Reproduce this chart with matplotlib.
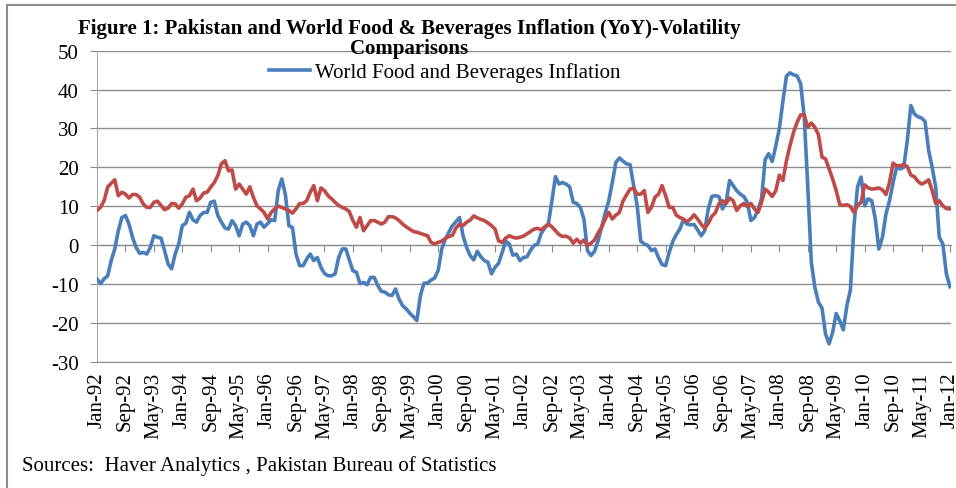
import matplotlib
matplotlib.use("Agg")
import matplotlib.pyplot as plt
from matplotlib.lines import Line2D
from matplotlib.patches import Rectangle
import numpy as np

plt.rcParams['font.family'] = ['Liberation Serif', 'DejaVu Serif']
plt.rcParams['axes.unicode_minus'] = False

# monthly YoY inflation, Jan-92 .. Jan-12
world = [
    -8.7, -9.9, -8.7, -7.9, -4.0, -1.0, 3.7, 7.1, 7.6, 5.4, 2.0, -0.6,
    -2.1, -1.9, -2.3, -0.6, 2.4, 2.0, 1.8, -1.4, -4.9, -6.1, -2.3, 0.3,
    5.0, 5.6, 8.4, 6.5, 5.9, 7.6, 8.4, 8.4, 11.0, 11.3, 7.6, 5.9,
    4.4, 4.1, 6.3, 5.0, 2.4, 5.4, 5.9, 5.0, 2.4, 5.4, 5.9, 4.6,
    5.5, 6.5, 6.3, 14.0, 17.0, 13.0, 5.0, 4.5, -2.3, -5.3, -5.3, -3.6,
    -2.3, -4.0, -3.2, -5.7, -7.3, -7.9, -7.9, -7.4, -3.2, -1.0, -1.0, -3.8,
    -6.6, -7.0, -9.9, -9.6, -10.2, -8.3, -8.3, -10.4, -11.9, -12.1, -12.8, -13.0,
    -11.3, -13.9, -15.6, -16.4, -17.5, -18.4, -19.4, -13.0, -9.8, -9.8, -9.0, -8.5,
    -6.5, -1.0, 1.5, 3.3, 5.0, 6.0, 7.1, 2.4, -0.6, -2.7, -3.8, -1.6,
    -3.0, -4.0, -4.4, -7.4, -5.7, -4.7, -1.9, 1.0, 0.3, -2.6, -2.3, -4.0,
    -3.2, -3.0, -1.3, -0.1, 0.3, 3.0, 4.4, 5.4, 11.4, 17.6, 15.7, 16.1,
    15.7, 15.0, 11.0, 10.7, 9.7, 6.7, -1.4, -2.7, -1.6, 1.1, 4.6, 8.2,
    11.4, 16.1, 21.3, 22.4, 21.6, 20.9, 20.7, 15.3, 10.1, 1.0, 0.3, -0.1,
    -1.4, -1.0, -3.2, -5.0, -5.3, -1.9, 0.9, 2.7, 4.1, 6.5, 5.4, 5.2,
    5.3, 3.9, 2.4, 3.7, 9.3, 12.5, 12.7, 12.5, 9.3, 11.0, 16.6, 15.3,
    14.0, 13.1, 12.5, 11.0, 6.3, 7.1, 9.0, 12.0, 22.0, 23.5, 21.5, 25.5,
    30.0, 37.0, 43.5, 44.3, 43.8, 43.5, 41.5, 33.0, 15.0, -4.5, -10.9, -14.7,
    -16.2, -22.9, -25.4, -22.4, -17.6, -19.5, -21.8, -15.6, -11.5, 5.0, 15.0, 17.5,
    10.1, 11.9, 11.4, 6.7, -1.0, 2.0, 8.0, 11.4, 16.1, 20.0, 19.6, 20.0,
    26.9, 35.9, 33.7, 33.0, 32.7, 31.8, 24.4, 20.0, 14.9, 2.0, 0.3, -7.4,
    -10.7,
]

pakistan = [
    8.9, 9.7, 11.4, 14.9, 15.9, 16.8, 12.7, 13.6, 13.1, 12.1, 13.0, 13.0,
    12.3, 10.6, 9.7, 9.7, 11.0, 11.3, 10.2, 9.1, 9.5, 10.7, 10.6, 9.5,
    10.6, 12.3, 12.7, 14.4, 11.4, 12.1, 13.4, 13.6, 14.9, 16.1, 17.9, 20.9,
    21.7, 19.1, 19.3, 14.4, 15.7, 14.4, 13.1, 15.0, 12.3, 10.1, 9.3, 8.4,
    6.7, 8.4, 9.3, 10.0, 9.7, 9.3, 8.9, 8.2, 9.3, 10.7, 10.7, 11.4,
    13.6, 15.3, 11.4, 14.7, 14.0, 12.7, 11.9, 11.0, 10.2, 9.7, 9.3, 8.6,
    6.3, 4.6, 7.1, 3.7, 5.0, 6.3, 6.3, 5.9, 5.4, 5.9, 7.3, 7.3,
    7.0, 6.3, 5.4, 4.7, 4.1, 3.5, 3.3, 3.0, 2.7, 2.4, 0.7, 0.3,
    0.7, 1.0, 1.7, 2.2, 2.5, 4.4, 5.4, 5.0, 5.9, 6.4, 7.5, 7.0,
    6.6, 6.3, 5.7, 5.0, 4.1, 1.1, 0.7, 1.8, 2.4, 2.0, 1.8, 2.0,
    2.3, 2.9, 3.5, 4.1, 4.3, 3.9, 4.7, 5.4, 4.7, 3.7, 2.7, 2.2,
    2.3, 1.8, 0.5, 1.5, 0.5, 1.3, -0.1, 0.5, 1.3, 3.1, 4.6, 6.7,
    8.4, 6.7, 7.7, 8.4, 11.3, 12.9, 14.4, 14.6, 13.1, 13.1, 14.0, 8.4,
    9.7, 12.3, 13.1, 15.3, 12.7, 9.7, 9.7, 7.7, 7.1, 6.7, 6.0, 6.7,
    7.8, 6.7, 5.4, 4.3, 5.6, 7.4, 8.3, 10.6, 11.4, 10.7, 12.1, 11.4,
    8.9, 10.1, 10.7, 9.9, 10.7, 9.3, 8.4, 11.0, 14.4, 13.6, 12.5, 14.0,
    18.0, 16.6, 21.7, 25.6, 29.0, 31.6, 33.5, 33.5, 30.3, 31.4, 30.3, 28.4,
    22.6, 22.2, 19.6, 17.0, 14.0, 10.4, 10.2, 10.4, 9.9, 8.4, 10.2, 11.0,
    15.5, 14.7, 14.4, 14.5, 14.7, 14.2, 13.0, 16.1, 21.1, 20.4, 20.4, 20.7,
    20.2, 18.0, 17.6, 16.4, 15.7, 16.1, 16.8, 14.0, 10.7, 11.4, 10.1, 9.4,
    9.3,
]

tick_labels = [
    'Jan-92', 'Sep-92', 'May-93', 'Jan-94', 'Sep-94', 'May-95', 'Jan-96', 'Sep-96',
    'May-97', 'Jan-98', 'Sep-98', 'May-99', 'Jan-00', 'Sep-00', 'May-01', 'Jan-02',
    'Sep-02', 'May-03', 'Jan-04', 'Sep-04', 'May-05', 'Jan-06', 'Sep-06', 'May-07',
    'Jan-08', 'Sep-08', 'May-09', 'Jan-10', 'Sep-10', 'May-11', 'Jan-12',
]

blue = '#4A7EBB'
red = '#BE4B48'
grid = '#8C8C8C'

W, H = 956, 489
fig = plt.figure(figsize=(W / 100, H / 100), dpi=100)
ax = fig.add_axes([97 / W, 1 - 362.7 / H, (951 - 97) / W, (362.7 - 51.7) / H])

x = np.arange(len(world))
ax.plot(x, world, color=blue, lw=2.6, zorder=3, solid_joinstyle='round')
ax.plot(x, pakistan, color=red, lw=2.6, zorder=4, solid_joinstyle='round')

ax.set_xlim(0, len(world) - 0.7)
ax.set_ylim(-30, 50)
ax.set_yticks(range(-30, 51, 10))
ax.yaxis.grid(True, color=grid, lw=1.0)
ax.set_axisbelow(True)

xt = np.arange(0, len(world), 8)
ax.set_xticks(xt)
ax.set_xticklabels(tick_labels, rotation=90, fontsize=15)
ax.tick_params(axis='x', length=0, pad=7)
ax.tick_params(axis='y', length=5, color=grid, labelsize=15, pad=8)

for s in ['top', 'right']:
    ax.spines[s].set_visible(False)
ax.spines['left'].set_color('#A6A6A6')
ax.spines['bottom'].set_color(grid)

# category axis crosses at zero
sec = ax.secondary_xaxis(30 / 80)
sec.set_xticks(xt)
sec.set_xticklabels([])
sec.tick_params(axis='x', direction='out', length=5, color=grid)
sec.spines['bottom'].set_color(grid)

fig.text(409 / W, 1 - 29 / H,
         'Figure 1: Pakistan and World Food & Beverages Inflation (YoY)-Volatility',
         ha='center', va='center', fontsize=15, weight='bold')
fig.text(409 / W, 1 - 49 / H, 'Comparisons', ha='center', va='center',
         fontsize=15, weight='bold')

ax.legend(handles=[Line2D([], [], color=blue, lw=2.6)],
          labels=['World Food and Beverages Inflation'],
          loc='center left', bbox_to_anchor=(269 / W, 1 - 73 / H),
          bbox_transform=fig.transFigure, frameon=False, fontsize=15,
          handlelength=1.95, handletextpad=0.25, borderpad=0, borderaxespad=0)

fig.text(22 / W, 1 - 466 / H,
         'Sources:  Haver Analytics , Pakistan Bureau of Statistics',
         ha='left', va='center', fontsize=15)

fig.patches.append(Rectangle((7 / W, -0.05), 1.1, 1 - 5.7 / H + 0.05,
                             transform=fig.transFigure, fill=False,
                             edgecolor='#8C8C8C', lw=1.5))

fig.savefig('out.png', dpi=100)
